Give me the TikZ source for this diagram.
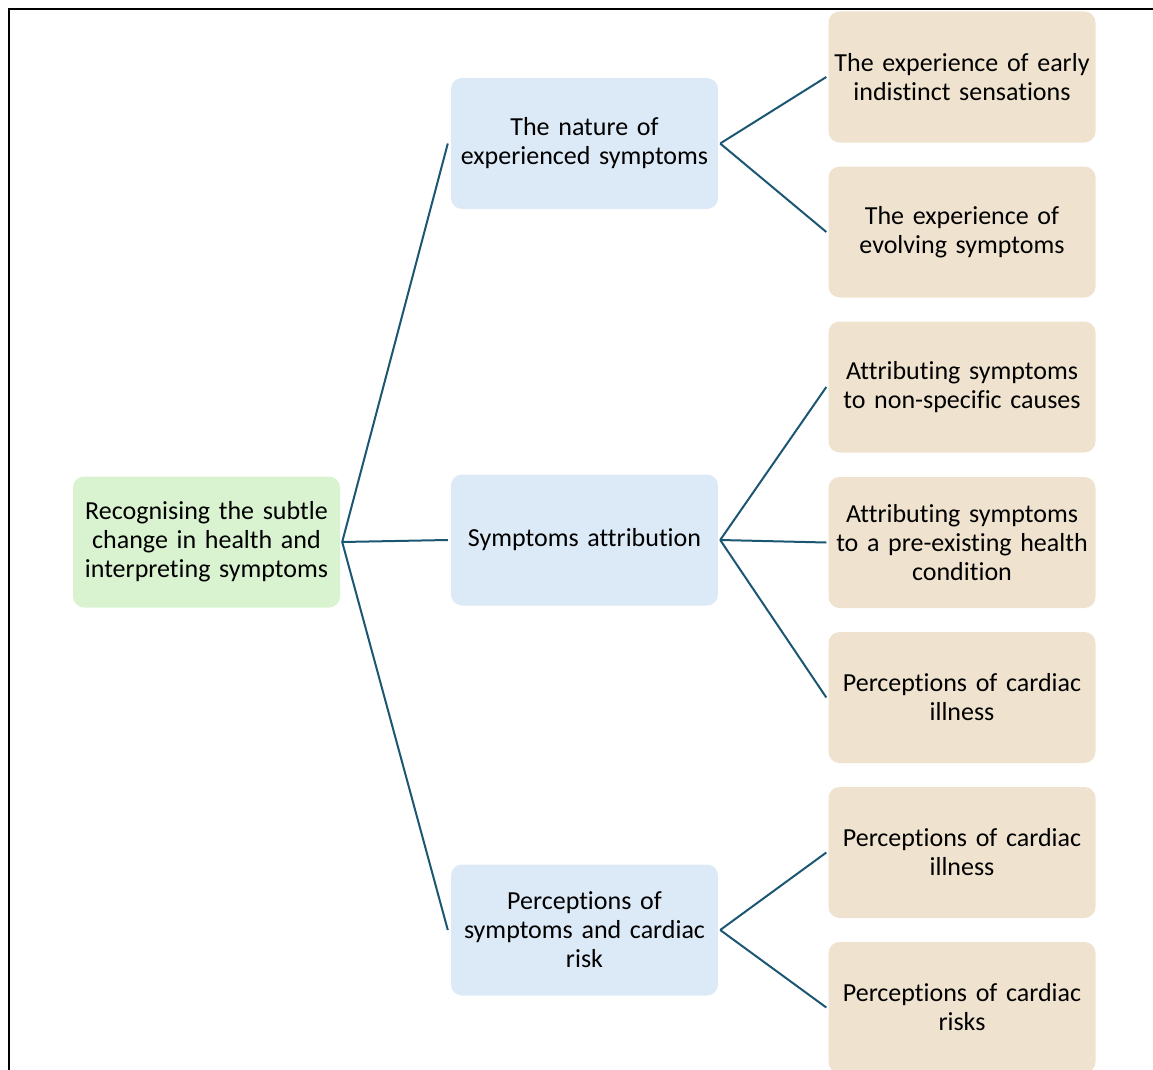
\documentclass[tikz,border=0pt]{standalone}
\usepackage{fontspec}
\setmainfont{Carlito}[Ligatures={NoCommon}]
\definecolor{rootfill}{HTML}{D9F2D0}
\definecolor{midfill}{HTML}{DCE9F6}
\definecolor{leaffill}{HTML}{EFE3CF}
\definecolor{linkcol}{HTML}{1B5673}
\begin{document}
\begin{tikzpicture}[x=1pt,y=-1pt,
  box/.style={rectangle, rounded corners=11pt, minimum width=267pt, minimum height=131pt,
    text width=262pt, align=center, inner sep=0pt, draw=none,
    font=\fontsize{26}{29}\selectfont},
  rootbox/.style={box, fill=rootfill},
  midbox/.style={box, fill=midfill},
  leafbox/.style={box, fill=leaffill},
  link/.style={draw=linkcol, line width=2pt}]
\useasboundingbox (0,0) rectangle (1153,1070);

% outer frame (runs off the page on the right and at the bottom)
\draw[line width=2.2pt, black] (9,1075) -- (9,9) -- (1160,9);

% root
\node[rootbox] (root) at (206.5,542) {Recognising the subtle\\change in health and\\interpreting symptoms};

% middle level
\node[midbox] (nature) at (584.5,143.5) {The nature of\\experienced symptoms};
\node[midbox] (attr) at (584.5,540) {Symptoms attribution};
\node[midbox] (perc) at (584.5,930) {Perceptions of\\symptoms and cardiac\\risk};

% leaves
\node[leafbox] (l1) at (962,77) {The experience of early\\indistinct sensations};
\node[leafbox] (l2) at (962,232) {The experience of\\evolving symptoms};
\node[leafbox] (l3) at (962,387) {Attributing symptoms\\to non-specific causes};
\node[leafbox] (l4) at (962,542.5) {Attributing symptoms\\to a pre-existing health\\condition};
\node[leafbox] (l5) at (962,697.5) {Perceptions of cardiac\\illness};
\node[leafbox] (l6) at (962,852.5) {Perceptions of cardiac\\illness};
\node[leafbox] (l7) at (962,1007.5) {Perceptions of cardiac\\risks};

% connectors
\begin{scope}[link]
  \coordinate (r) at ([xshift=2pt]root.east);
  \draw (r) -- ([xshift=-3pt]nature.west);
  \draw (r) -- ([xshift=-3pt]attr.west);
  \draw (r) -- ([xshift=-3pt]perc.west);
  \coordinate (n) at ([xshift=2pt]nature.east);
  \draw (n) -- ([xshift=-2pt]l1.west);
  \draw (n) -- ([xshift=-2pt]l2.west);
  \coordinate (a) at ([xshift=2pt]attr.east);
  \draw (a) -- ([xshift=-2pt]l3.west);
  \draw (a) -- ([xshift=-2pt]l4.west);
  \draw (a) -- ([xshift=-2pt]l5.west);
  \coordinate (p) at ([xshift=2pt]perc.east);
  \draw (p) -- ([xshift=-2pt]l6.west);
  \draw (p) -- ([xshift=-2pt]l7.west);
\end{scope}
\end{tikzpicture}
\end{document}
